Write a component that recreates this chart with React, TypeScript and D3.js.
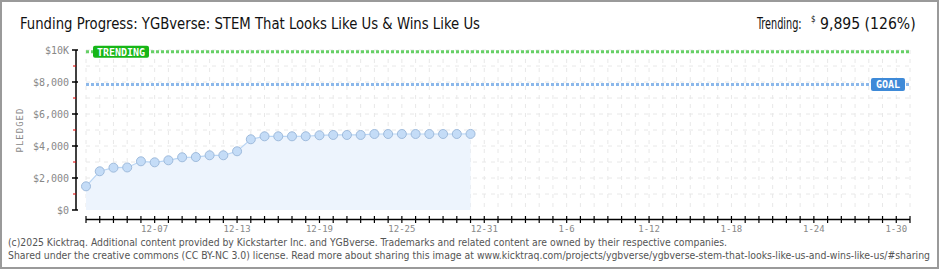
import React from "react";
import * as d3 from "d3";

const TITLE = "Funding Progress: YGBverse: STEM That Looks Like Us & Wins Like Us";
const START_DATE = "2024-12-02";
const END_DATE = "2025-01-31";
const PLEDGED = [
  1480, 2420, 2646, 2660, 3044, 2980, 3106, 3294, 3310, 3420, 3420, 3670, 4420, 4606,
  4606, 4606, 4610, 4670, 4690, 4690, 4690, 4750, 4750, 4750, 4750, 4750, 4750, 4750, 4755,
];
const GOAL = 7850;
const TRENDING = 9895;
const Y_TICKS = [0, 2000, 4000, 6000, 8000, 10000];
const Y_TICK_LABELS = ["$0", "$2,000", "$4,000", "$6,000", "$8,000", "$10K"];
const X_TICK_DATES = ["2024-12-07", "2024-12-13", "2024-12-19", "2024-12-25", "2024-12-31", "2025-01-06", "2025-01-12", "2025-01-18", "2025-01-24", "2025-01-30"];
const X_TICK_LABELS = ["12-07", "12-13", "12-19", "12-25", "12-31", "1-6", "1-12", "1-18", "1-24", "1-30"];
const FOOTER1 = "(c)2025 Kicktraq. Additional content provided by Kickstarter Inc. and YGBverse. Trademarks and related content are owned by their respective companies.";
const FOOTER2 = "Shared under the creative commons (CC BY-NC 3.0) license. Read more about sharing this image at www.kicktraq.com/projects/ygbverse/ygbverse-stem-that-looks-like-us-and-wins-like-us/#sharing";

const parse = d3.utcParse("%Y-%m-%d");

export default function App() {
  const W = 940, H = 270;
  const x0 = 86, x1 = 910, yTop = 50, yBot = 210;
  const start = parse(START_DATE)!;
  const end = parse(END_DATE)!;
  const x = d3.scaleUtc().domain([start, end]).range([x0, x1]);
  const y = d3.scaleLinear().domain([0, 10000]).range([yBot, yTop]);
  const days = d3.utcDay.range(start, d3.utcDay.offset(end, 1));
  const data = PLEDGED.map((v, i) => ({ d: d3.utcDay.offset(start, i), v }));
  const line = d3.line<{ d: Date; v: number }>().x((p) => x(p.d)).y((p) => y(p.v));
  const area = d3.area<{ d: Date; v: number }>().x((p) => x(p.d)).y0(yBot).y1((p) => y(p.v));
  const gridVals = d3.range(1000, 10001, 1000);
  const minor = d3.range(1000, 10000, 2000);
  const mono = "'DejaVu Sans Mono', monospace";
  const cond = "'DejaVu Sans Condensed', 'DejaVu Sans', sans-serif";
  const yTrend = y(TRENDING);
  const yGoal = y(GOAL);

  return (
    <div style={{ position: "fixed", left: 0, top: 0 }}>
      <svg width={W} height={H} style={{ display: "block", background: "#fff" }}>
        <rect x={1} y={1} width={937} height={267} fill="#fff" stroke="#9a9a9a" strokeWidth={2} />
        <text x={20} y={29} fontFamily={cond} fontSize={15} fill="#111" textLength={460} lengthAdjust="spacingAndGlyphs">{TITLE}</text>
        <text transform="translate(757,29) scale(0.72,1)" fontFamily={cond} fontSize={15} fill="#111">Trending:</text>
        <text x={811} y={22} fontFamily={cond} fontSize={8} fill="#111">$</text>
        <text transform="translate(820,29) scale(1.04,1)" fontFamily={cond} fontSize={15} fill="#111">9,895 (126%)</text>

        {/* grid */}
        {days.map((d, i) => (
          <line key={"vg" + i} x1={x(d)} x2={x(d)} y1={yTop} y2={yBot} stroke="#e8e8e8" strokeDasharray="4,5" />
        ))}
        {gridVals.map((v) => (
          <line key={"hg" + v} x1={x0} x2={x1} y1={y(v)} y2={y(v)} stroke="#e8e8e8" strokeDasharray="4,5" />
        ))}

        {/* area + line */}
        <path d={area(data)!} fill="#edf4fd" />
        <path d={line(data)!} fill="none" stroke="#b9d5f4" strokeWidth={1.2} />
        {data.map((p, i) => (
          <circle key={"c" + i} cx={x(p.d)} cy={y(p.v)} r={4.5} fill="#c4dcf7" stroke="#9fbbdc" strokeWidth={1} />
        ))}

        {/* trending / goal lines */}
        <line x1={x0} x2={x1} y1={yTrend} y2={yTrend} stroke="#66d066" strokeWidth={3} strokeDasharray="3,2" />
        <line x1={x0} x2={x1} y1={yGoal} y2={yGoal} stroke="#8cb8ea" strokeWidth={3} strokeDasharray="3,2" />
        <rect x={93} y={yTrend - 6} width={56} height={12} rx={2} fill="#17b617" />
        <text x={121} y={yTrend + 4} textAnchor="middle" fontFamily={mono} fontSize={10} fontWeight="bold" fill="#fff">TRENDING</text>
        <rect x={871} y={yGoal - 6.5} width={34} height={13} rx={2} fill="#3e8ad8" />
        <text x={888} y={yGoal + 4} textAnchor="middle" fontFamily={mono} fontSize={10} fontWeight="bold" fill="#fff">GOAL</text>

        {/* y axis */}
        <line x1={76} x2={76} y1={yTop} y2={yBot} stroke="#000" strokeWidth={1.5} />
        {Y_TICKS.map((v, i) => (
          <g key={"yt" + v}>
            <line x1={72} x2={78} y1={y(v)} y2={y(v)} stroke="#000" strokeWidth={1.5} />
            <text x={69} y={y(v) + 3.5} textAnchor="end" fontFamily={mono} fontSize={10} fill="#888">{Y_TICK_LABELS[i]}</text>
          </g>
        ))}
        {minor.map((v) => (
          <line key={"ym" + v} x1={73} x2={76} y1={y(v)} y2={y(v)} stroke="#e00000" strokeWidth={1} />
        ))}
        <text transform={`translate(23,130) rotate(-90)`} textAnchor="middle" fontFamily={mono} fontSize={9} fill="#888" letterSpacing={1}>PLEDGED</text>

        {/* x axis */}
        <line x1={x0} x2={x1} y1={219.5} y2={219.5} stroke="#000" strokeWidth={1.5} />
        {days.map((d, i) => (
          <line key={"xt" + i} x1={x(d)} x2={x(d)} y1={216} y2={223} stroke="#000" strokeWidth={1.2} />
        ))}
        {X_TICK_DATES.map((s, i) => (
          <text key={"xl" + s} x={x(parse(s)!)} y={232} textAnchor="middle" fontFamily={mono} fontSize={9} fill="#888">{X_TICK_LABELS[i]}</text>
        ))}

        {/* footer */}
        <text x={8} y={246} fontFamily={cond} fontSize={10} fill="#555" textLength={719} lengthAdjust="spacingAndGlyphs">{FOOTER1}</text>
        <text x={8} y={259} fontFamily={cond} fontSize={10} fill="#555" textLength={922} lengthAdjust="spacingAndGlyphs">{FOOTER2}</text>
      </svg>
    </div>
  );
}
